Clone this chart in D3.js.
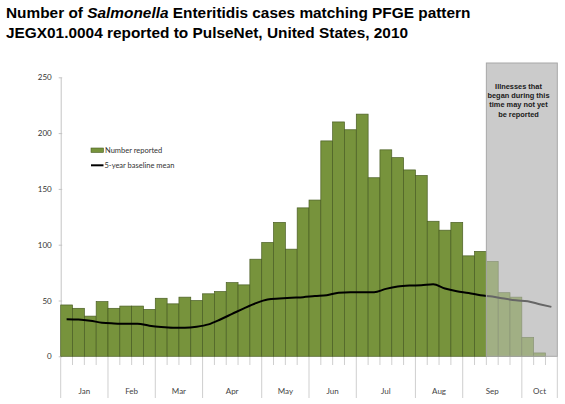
<!DOCTYPE html>
<html>
<head>
<meta charset="utf-8">
<script src="https://cdn.jsdelivr.net/npm/d3@7"></script>
<style>
  body { margin: 0; background: #fff; }
  svg { display: block; }
</style>
</head>
<body>
<svg id="chart" width="565" height="404"></svg>
<script>
// weekly case counts, 2010 (weeks 1..42)
const reported= [46, 43, 36, 49, 43, 45, 45, 42, 52, 47, 53, 50, 56, 58, 66, 64, 87, 102, 120, 96,
  133, 140, 193, 210, 203, 217, 160, 185, 178, 167, 162, 121, 113, 120, 90, 94, 85, 57, 53, 17, 3, 0];
const baseline= [33.3, 33, 31.9, 30.1, 29.5, 29.2, 29.2, 27.4, 26.2, 25.6, 25.6, 26.5, 28.6, 33, 38, 43,
  47.6, 50.9, 51.8, 52.5, 53, 54, 54.7, 57, 57.4, 57.4, 57.4, 60.4, 62.5, 63.4, 63.7, 64.6, 60.7, 58.3,
  56.8, 54.7, 53.5, 51.7, 50.2, 49.3, 46.7, 44.3];
const months= ['Jan', 'Feb', 'Mar', 'Apr', 'May', 'Jun', 'Jul', 'Aug', 'Sep', 'Oct'];
const monthWeeks= [4, 4, 4, 5, 4, 4, 5, 4, 5, 3];
const yTicks= [0, 50, 100, 150, 200, 250];
const lagStart= 36; // first week that may be under-reported
const lagNote= ['Illnesses that', 'began during this', 'time may not yet', 'be reported'];

const svg= d3.select('#chart');
const axisFont= 'Lato, "Open Sans", sans-serif';
const titleFont= '"Liberation Sans", Arial, sans-serif';

const x= d3.scaleBand().domain(d3.range(reported.length)).range([60.7, 557.3]).paddingInner(0);
const y= d3.scaleLinear().domain([0, 250]).range([356.3, 77.3]);

// title
const title= svg.append('text')
  .attr('x', 6).attr('y', 18)
  .style('font-family', titleFont)
  .style('font-size', '15.4px').style('font-weight', 'bold').attr('fill', '#000');
title.append('tspan').text('Number of ');
title.append('tspan').style('font-style', 'italic').text('Salmonella');
title.append('tspan').text(' Enteritidis cases matching PFGE pattern');
svg.append('text')
  .attr('x', 6).attr('y', 38)
  .style('font-family', titleFont)
  .style('font-size', '15.4px').style('font-weight', 'bold').attr('fill', '#000')
  .text('JEGX01.0004 reported to PulseNet, United States, 2010');

// gray box underneath
const boxX= x(lagStart), boxR= x.range()[1];
svg.append('rect')
  .attr('x', boxX).attr('y', 63).attr('width', boxR-boxX).attr('height', y(0)-63)
  .attr('fill', '#cbcbcb');

// y axis
const gy= svg.append('g').attr('transform', `translate(${x.range()[0]},0)`)
  .call(d3.axisLeft(y).tickValues(yTicks).tickSize(2).tickSizeOuter(0).tickPadding(7));
gy.select('.domain').attr('stroke', '#c4c4c4');
gy.selectAll('.tick line').attr('stroke', '#c4c4c4').attr('x2', 1.5).attr('x1', -2);
gy.selectAll('.tick text').style('font-family', axisFont).style('font-size', '8px').attr('fill', '#333');

// week ticks and month dividers
let cum= 0;
const monthBounds= [0].concat(monthWeeks.map(n => (cum+= n)));
const weekLines= svg.append('g').attr('stroke', '#cfcfcf').attr('stroke-width', 1);
weekLines.selectAll('line').data(d3.range(reported.length+1)).join('line')
  .attr('x1', d => d < reported.length ? x(d) : boxR)
  .attr('x2', d => d < reported.length ? x(d) : boxR)
  .attr('y1', y(0))
  .attr('y2', d => monthBounds.includes(d) ? 398 : 365);

svg.append('g').selectAll('text').data(months).join('text')
  .attr('x', (m, i) => {
    const a= x(monthBounds[i]);
    const b= monthBounds[i+1] < reported.length ? x(monthBounds[i+1]) : boxR;
    return (a+b)/2;
  })
  .attr('y', 394)
  .attr('text-anchor', 'middle')
  .style('font-family', axisFont).style('font-size', '8px').attr('fill', '#444')
  .text(m => m);

// bars
svg.append('g').selectAll('rect').data(reported).join('rect')
  .attr('x', (d, i) => x(i))
  .attr('y', d => y(d))
  .attr('width', x.bandwidth())
  .attr('height', d => y(0)-y(d))
  .attr('fill', '#77933c')
  .attr('stroke', '#4a5e24')
  .attr('stroke-width', 0.7);

// baseline mean
const line= d3.line()
  .x((d, i) => x(i)+x.bandwidth()/2)
  .y(d => y(d))
  .curve(d3.curveMonotoneX);
svg.append('path')
  .attr('d', line(baseline))
  .attr('fill', 'none')
  .attr('stroke', '#000')
  .attr('stroke-width', 2);

// reporting-lag overlay
svg.append('rect')
  .attr('x', boxX).attr('y', 63).attr('width', boxR-boxX).attr('height', y(0)-63)
  .attr('fill', '#cbcbcb').attr('fill-opacity', 0.5)
  .attr('stroke', '#a8a8a8').attr('stroke-width', 1);

svg.append('g').selectAll('text').data(lagNote).join('text')
  .attr('x', 518.5)
  .attr('y', (d, i) => 88.5+i*9.4)
  .attr('text-anchor', 'middle')
  .style('font-family', '"Liberation Sans Narrow", "Liberation Sans", Arial, sans-serif')
  .style('font-size', '7.4px').style('font-weight', 'bold').attr('fill', '#1a1a1a')
  .text(d => d);

// legend
const leg= svg.append('g').style('font-family', axisFont).style('font-size', '7.5px').attr('fill', '#333');
leg.append('rect').attr('x', 91).attr('y', 148).attr('width', 12.5).attr('height', 4.5)
  .attr('fill', '#77933c').attr('stroke', '#4a5e24').attr('stroke-width', 0.6);
leg.append('text').attr('x', 105).attr('y', 152.6).text('Number reported');
leg.append('line').attr('x1', 91).attr('x2', 103.5).attr('y1', 165.3).attr('y2', 165.3)
  .attr('stroke', '#000').attr('stroke-width', 2);
leg.append('text').attr('x', 104.5).attr('y', 167.8).text('5-year baseline mean');
</script>
</body>
</html>
